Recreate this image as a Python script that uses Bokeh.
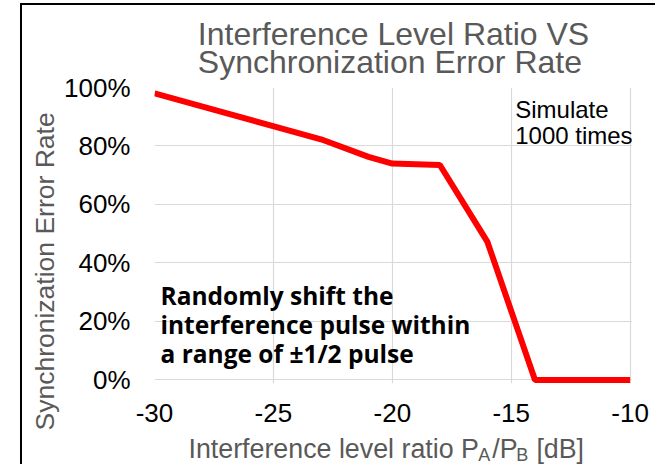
import math
from bokeh.plotting import figure
from bokeh.models import Range1d, NumeralTickFormatter, Label, FixedTicker, Title
from bokeh.embed import file_html
from bokeh.resources import INLINE

# ---- data ----
x_db = [-30, -23, -21, -20, -18, -16, -14, -12, -10]
err_rate = [0.98, 0.823, 0.763, 0.74, 0.735, 0.472, 0.0, 0.0, 0.0]
x_ticks = [-30, -25, -20, -15, -10]
y_ticks = [0.0, 0.2, 0.4, 0.6, 0.8, 1.0]
title_lines = ["Interference Level Ratio VS", "Synchronization Error Rate"]
y_label = "Synchronization Error Rate"
x_label_main = "Interference level ratio P\u2002/P\u2002\u2009[dB]"
x_label_subs = ["A", "B"]
sim_lines = ["Simulate", "1000 times"]
note_lines = ["Randomly shift the", "interference pulse within", "a range of \u00b11/2 pulse"]

# ---- layout helpers (page pixel -> data coordinates) ----
X0_PX, X_SCALE = 154.0, 23.8      # px of x=-30, px per dB
Y0_PX, Y_SCALE = 379.3, 291.7     # px of y=0, px per 100%


def sx(px):
    return -30 + (px - X0_PX) / X_SCALE


def sy(py):
    return (Y0_PX - py) / Y_SCALE


p = figure(width=635, height=461,
           x_range=Range1d(-30, -9.9), y_range=Range1d(-0.012, 1.0),
           output_backend="svg", toolbar_location=None, title=None,
           min_border_left=132, min_border_right=25,
           min_border_top=82, min_border_bottom=83)
p.styles = {"margin-left": "20px", "margin-top": "3px",
            "border-left": "2px solid black", "border-top": "2px solid black"}
p.outline_line_color = None
p.background_fill_color = "white"
p.border_fill_color = "white"

p.xaxis.ticker = FixedTicker(ticks=x_ticks)
p.yaxis.ticker = FixedTicker(ticks=y_ticks)
p.xaxis.formatter = NumeralTickFormatter(format="0")
p.yaxis.formatter = NumeralTickFormatter(format="0%")
for ax in (p.xaxis, p.yaxis):
    ax.axis_line_color = None
    ax.major_tick_line_color = None
    ax.minor_tick_line_color = None
    ax.major_tick_out = 0
    ax.major_tick_in = 0
    ax.major_label_text_font = "Liberation Sans"
    ax.major_label_text_font_size = "26px"
    ax.major_label_text_color = "black"
p.yaxis.major_label_standoff = 24
p.xaxis.major_label_standoff = 20

p.xgrid.grid_line_color = "#d9d9d9"
p.ygrid.grid_line_color = "#d9d9d9"
p.xgrid.grid_line_width = 1.2
p.ygrid.grid_line_width = 1.2

p.line(x_db, err_rate, line_color="#ff0000", line_width=6)

# title (two lines)
p.add_layout(Title(text="\n".join(title_lines), align="center",
                   text_font="Liberation Sans", text_font_size="32px",
                   text_font_style="normal", text_color="#595959",
                   text_line_height=0.8, standoff=14), "above")

# y axis label (as a side title, shifted along the axis)
p.add_layout(Title(text=y_label, align="left", offset=-47,
                   text_font="Liberation Sans", text_font_size="26.5px",
                   text_font_style="normal", text_color="#595959",
                   standoff=4), "left")

# x axis label: main text in the lower panel, subscripts in the right panel
p.add_layout(Label(x=sx(188), y=sy(448.5), text=x_label_main, text_align="left",
                   text_baseline="alphabetic", text_font="Liberation Sans",
                   text_font_size="26.8px", text_color="#595959"), "below")
for txt, xp in zip(x_label_subs, [478, 516]):
    p.add_layout(Label(x=sx(xp), y=sy(454.0), text=txt, text_align="left",
                       text_baseline="alphabetic", text_font="Liberation Sans",
                       text_font_size="18px", text_color="#595959"), "right")

# "Simulate 1000 times"
for txt, base in zip(sim_lines, [109.2, 135.8]):
    p.add_layout(Label(x=sx(515), y=sy(base), text=txt, text_align="left",
                       text_baseline="alphabetic", text_font="Liberation Sans",
                       text_font_size="24px", text_color="black"))

# bold note
for txt, base in zip(note_lines, [295.3, 324.3, 353.0]):
    p.add_layout(Label(x=sx(160), y=sy(base), text=txt, text_align="left",
                       text_baseline="alphabetic", text_font="Open Sans",
                       text_font_style="bold", text_font_size="24.5px",
                       text_color="black"))

open("out.html", "w").write(file_html(p, INLINE))
